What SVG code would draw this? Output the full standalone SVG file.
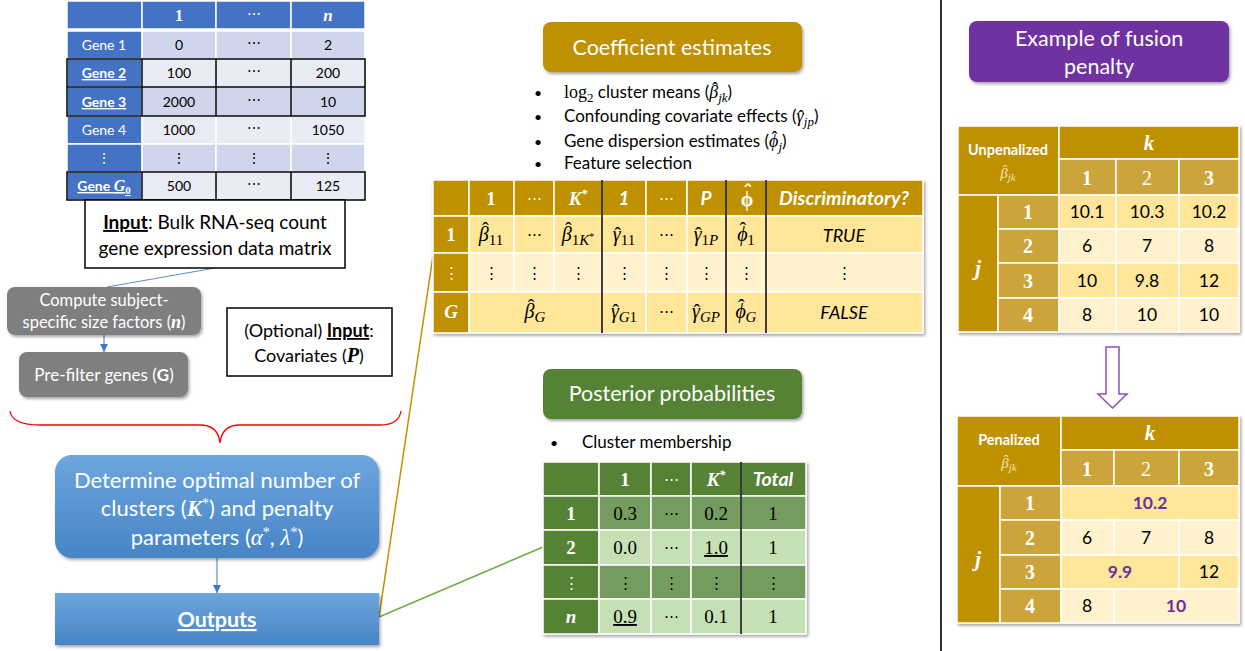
<svg xmlns="http://www.w3.org/2000/svg" width="1245" height="651" viewBox="0 0 1245 651">
<defs>
<style>
.s{font-family:Lato,"Liberation Sans",sans-serif}
.m{font-family:"Liberation Serif","DejaVu Serif",serif}
.w{fill:#fff}
.k{fill:#000}
.c{text-anchor:middle}
.b{font-weight:bold}
.i{font-style:italic}
.n{font-style:normal}
.cell{stroke:#fff;stroke-width:1.5}
.blk{stroke:#000;stroke-width:1.5;fill:none}
.gd{fill:#BF9000}
.gm{fill:#CBA53A}
.g1{fill:#FFE699}
.g2{fill:#FFF2CC}
.bl{fill:#4472C4}
.l1{fill:#CFD5EA}
.l2{fill:#E9EBF5}
.dg{fill:#548235}
.mg{fill:#749C5E}
.lg{fill:#C5E0B4}
</style>
<linearGradient id="bg" x1="0" y1="0" x2="0" y2="1"><stop offset="0" stop-color="#6EA6DE"/><stop offset="1" stop-color="#4784C6"/></linearGradient>
<filter id="sh" x="-10%" y="-10%" width="125%" height="135%"><feDropShadow dx="1.5" dy="2" stdDeviation="1.5" flood-color="#000" flood-opacity="0.35"/></filter>
<marker id="ab" viewBox="0 0 10 10" refX="10" refY="5" markerWidth="8" markerHeight="8" orient="auto" markerUnits="userSpaceOnUse"><path d="M0,0 L10,5 L0,10 z" fill="#4472C4"/></marker>
</defs>
<rect width="1245" height="651" fill="#fff"/>

<g id="connectors">
<line x1="215" y1="268" x2="107" y2="287" stroke="#5B8BD0" stroke-width="1"/>
<line x1="104" y1="335" x2="104" y2="352" stroke="#4472C4" stroke-width="1" marker-end="url(#ab)"/>
<line x1="217" y1="558" x2="217" y2="593" stroke="#4472C4" stroke-width="1" marker-end="url(#ab)"/>
<path d="M10,411 Q12,425 40,425 L200,425 Q218,425 220,443 Q222,425 240,425 L380,425 Q399,425 401,411" fill="none" stroke="#FF0000" stroke-width="1.3"/>
<line x1="379" y1="617" x2="433" y2="256" stroke="#BF9000" stroke-width="1.5"/>
<line x1="379" y1="617" x2="543" y2="547" stroke="#70AD47" stroke-width="1.5"/>
<path d="M1106,347 L1119,347 L1119,394 L1127,394 L1112.5,408 L1098,394 L1106,394 Z" fill="#fff" stroke="#8A4FC4" stroke-width="1.5"/>
<line x1="941" y1="0" x2="941" y2="651" stroke="#333" stroke-width="2"/>
</g>

<g id="count-matrix">
<g class="cell">
<rect class="bl" x="67" y="1" width="75" height="28"/><rect class="bl" x="142" y="1" width="74" height="28"/><rect class="bl" x="216" y="1" width="75" height="28"/><rect class="bl" x="291" y="1" width="74" height="28"/>
<rect class="bl" x="67" y="31" width="75" height="28"/><rect class="l1" x="142" y="31" width="74" height="28"/><rect class="l1" x="216" y="31" width="75" height="28"/><rect class="l1" x="291" y="31" width="74" height="28"/>
<rect class="bl" x="67" y="59" width="75" height="28"/><rect class="l2" x="142" y="59" width="74" height="28"/><rect class="l2" x="216" y="59" width="75" height="28"/><rect class="l2" x="291" y="59" width="74" height="28"/>
<rect class="bl" x="67" y="87" width="75" height="29"/><rect class="l1" x="142" y="87" width="74" height="29"/><rect class="l1" x="216" y="87" width="75" height="29"/><rect class="l1" x="291" y="87" width="74" height="29"/>
<rect class="bl" x="67" y="116" width="75" height="28"/><rect class="l2" x="142" y="116" width="74" height="28"/><rect class="l2" x="216" y="116" width="75" height="28"/><rect class="l2" x="291" y="116" width="74" height="28"/>
<rect class="bl" x="67" y="144" width="75" height="28"/><rect class="l1" x="142" y="144" width="74" height="28"/><rect class="l1" x="216" y="144" width="75" height="28"/><rect class="l1" x="291" y="144" width="74" height="28"/>
<rect class="bl" x="67" y="172" width="75" height="28"/><rect class="l2" x="142" y="172" width="74" height="28"/><rect class="l2" x="216" y="172" width="75" height="28"/><rect class="l2" x="291" y="172" width="74" height="28"/>
</g>
<rect class="blk" x="67" y="59" width="298" height="57"/>
<path class="blk" d="M67,87 H365 M142,59 V116 M216,59 V116 M291,59 V116"/>
<rect class="blk" x="67" y="172" width="298" height="28"/>
<path class="blk" d="M142,172 V200 M216,172 V200 M291,172 V200"/>
<text class="m w b c" x="179" y="21" font-size="16">1</text>
<text class="s w c" x="254" y="19" font-size="14">⋯</text>
<text class="m w b i c" x="328" y="21" font-size="17">n</text>
<g class="s c" font-size="14">
<text class="w" x="104" y="50">Gene 1</text>
<text class="w b" x="104" y="78" text-decoration="underline">Gene 2</text>
<text class="w b" x="104" y="107" text-decoration="underline">Gene 3</text>
<text class="w" x="104" y="135">Gene 4</text>
<text class="w" x="104" y="163">⋮</text>
<text class="w b" x="104" y="191" text-decoration="underline">Gene <tspan class="m i" font-size="16">G</tspan><tspan class="m" font-size="11" dy="3">0</tspan></text>
<text x="179" y="50">0</text><text x="254" y="48">⋯</text><text x="328" y="50">2</text>
<text x="179" y="78">100</text><text x="254" y="76">⋯</text><text x="328" y="78">200</text>
<text x="179" y="107">2000</text><text x="254" y="105">⋯</text><text x="328" y="107">10</text>
<text x="179" y="135">1000</text><text x="254" y="133">⋯</text><text x="328" y="135">1050</text>
<text x="179" y="163">⋮</text><text x="254" y="163">⋮</text><text x="328" y="163">⋮</text>
<text x="179" y="191">500</text><text x="254" y="189">⋯</text><text x="328" y="191">125</text>
</g>
</g>

<g id="input-box">
<rect x="85" y="200" width="260" height="68" fill="#fff" stroke="#000" stroke-width="1.5"/>
<text class="s c" x="215" y="229" font-size="19"><tspan class="b" text-decoration="underline">Input</tspan>: Bulk RNA-seq count</text>
<text class="s c" x="215" y="255" font-size="19">gene expression data matrix</text>
</g>

<g id="size-factors">
<rect x="7" y="287" width="194" height="48" rx="8" fill="#7F7F7F" filter="url(#sh)"/>
<text class="s w c" x="104" y="306" font-size="16.5">Compute subject-</text>
<text class="s w c" x="104" y="328" font-size="16.5">specific size factors (<tspan class="m b i" font-size="18">n</tspan>)</text>
</g>

<g id="prefilter">
<rect x="19" y="352" width="169" height="45" rx="8" fill="#7F7F7F" filter="url(#sh)"/>
<text class="s w c" x="104" y="381" font-size="17">Pre-filter genes (<tspan class="b">G</tspan>)</text>
</g>

<g id="covariates">
<rect x="227" y="308" width="165" height="68" fill="#fff" stroke="#000" stroke-width="1.5"/>
<text class="s c" x="309" y="337" font-size="18">(Optional) <tspan class="b" text-decoration="underline">Input</tspan>:</text>
<text class="s c" x="309" y="362" font-size="18">Covariates (<tspan class="m b i" font-size="20">P</tspan>)</text>
</g>

<g id="determine">
<rect x="55" y="455" width="324" height="103" rx="17" fill="url(#bg)" filter="url(#sh)"/>
<text class="s w c" x="217" y="488" font-size="22">Determine optimal number of</text>
<text class="s w c" x="217" y="516" font-size="22">clusters (<tspan class="m b i" font-size="23">K</tspan><tspan class="m" font-size="14" dy="-8">*</tspan><tspan dy="8">) and penalty</tspan></text>
<text class="s w c" x="217" y="545" font-size="22">parameters (<tspan class="m i" font-size="23">α</tspan><tspan class="m" font-size="14" dy="-8">*</tspan><tspan dy="8">, </tspan><tspan class="m i" font-size="23">λ</tspan><tspan class="m" font-size="14" dy="-8">*</tspan><tspan dy="8">)</tspan></text>
</g>

<g id="outputs">
<rect x="55" y="593" width="324" height="52" fill="url(#bg)" filter="url(#sh)"/>
<text class="s w b c" x="217" y="627" font-size="21.5" text-decoration="underline">Outputs</text>
</g>

<g id="coef-title">
<rect x="543" y="22" width="259" height="50" rx="8" fill="#BF9000" filter="url(#sh)"/>
<text class="s w c" x="672" y="55" font-size="21.5">Coefficient estimates</text>
</g>

<g id="coef-bullets" class="s" font-size="17">
<text x="534" y="98" font-size="14">•</text><text x="564" y="98"><tspan class="m" font-size="18">log</tspan><tspan class="m" font-size="13" dy="4">2</tspan><tspan dy="-4"> cluster means (</tspan><tspan class="m i" font-size="18">β</tspan><tspan class="m" font-size="18" dx="-6.2" dy="-3">ˆ</tspan><tspan class="m i" font-size="13" dx="0.2" dy="7">jk</tspan><tspan dy="-4">)</tspan></text>
<text x="534" y="122" font-size="14">•</text><text x="564" y="122">Confounding covariate effects (<tspan class="m i" font-size="18">γ</tspan><tspan class="m" font-size="18" dx="-5.6" dy="1">ˆ</tspan><tspan class="m i" font-size="13" dx="-0.2" dy="3">jp</tspan><tspan dy="-4">)</tspan></text>
<text x="534" y="147" font-size="14">•</text><text x="564" y="147">Gene dispersion estimates (<tspan class="m i" font-size="18">ϕ</tspan><tspan class="m" font-size="18" dx="-7" dy="-3">ˆ</tspan><tspan class="m i" font-size="13" dx="1" dy="7">j</tspan><tspan dy="-4">)</tspan></text>
<text x="534" y="169" font-size="14">•</text><text x="564" y="169">Feature selection</text>
</g>

<g id="coef-table">
<g filter="url(#sh)" class="cell">
<rect class="gd" x="433" y="180" width="36" height="36"/><rect class="gd" x="469" y="180" width="45" height="36"/><rect class="gd" x="514" y="180" width="40" height="36"/><rect class="gd" x="554" y="180" width="48" height="36"/><rect class="gd" x="602" y="180" width="44" height="36"/><rect class="gd" x="646" y="180" width="41" height="36"/><rect class="gd" x="687" y="180" width="39" height="36"/><rect class="gd" x="726" y="180" width="40" height="36"/><rect class="gd" x="766" y="180" width="157" height="36"/>
<rect class="gd" x="433" y="216" width="36" height="37"/><rect class="g1" x="469" y="216" width="45" height="37"/><rect class="g1" x="514" y="216" width="40" height="37"/><rect class="g1" x="554" y="216" width="48" height="37"/><rect class="g1" x="602" y="216" width="44" height="37"/><rect class="g1" x="646" y="216" width="41" height="37"/><rect class="g1" x="687" y="216" width="39" height="37"/><rect class="g1" x="726" y="216" width="40" height="37"/><rect class="g1" x="766" y="216" width="157" height="37"/>
<rect class="gd" x="433" y="253" width="36" height="39"/><rect class="g2" x="469" y="253" width="45" height="39"/><rect class="g2" x="514" y="253" width="40" height="39"/><rect class="g2" x="554" y="253" width="48" height="39"/><rect class="g2" x="602" y="253" width="44" height="39"/><rect class="g2" x="646" y="253" width="41" height="39"/><rect class="g2" x="687" y="253" width="39" height="39"/><rect class="g2" x="726" y="253" width="40" height="39"/><rect class="g2" x="766" y="253" width="157" height="39"/>
<rect class="gd" x="433" y="292" width="36" height="41"/><rect class="g1" x="469" y="292" width="133" height="41"/><rect class="g1" x="602" y="292" width="44" height="41"/><rect class="g1" x="646" y="292" width="41" height="41"/><rect class="g1" x="687" y="292" width="39" height="41"/><rect class="g1" x="726" y="292" width="40" height="41"/><rect class="g1" x="766" y="292" width="157" height="41"/>
</g>
<path d="M602,180 V333 M726,180 V333 M766,180 V333" stroke="#000" stroke-width="1.5"/>
<g class="c">
<text class="m w b" x="491" y="205" font-size="19">1</text>
<text class="s w" x="534" y="203" font-size="15">⋯</text>
<text class="m w b i" x="578" y="205" font-size="19">K<tspan font-size="12" dy="-7">*</tspan></text>
<text class="s w b i" x="624" y="205" font-size="19">1</text>
<text class="s w" x="666" y="203" font-size="15">⋯</text>
<text class="s w b i" x="706" y="205" font-size="19">P</text>
<text class="m w b" x="747" y="206" font-size="20">ϕ<tspan dx="-9" dy="-7" font-size="22">ˆ</tspan></text>
<text class="s w b i" x="844" y="205" font-size="19.5">Discriminatory?</text>
<text class="m w b" x="451" y="241" font-size="19">1</text>
<text class="s w" x="451" y="278" font-size="15">⋮</text>
<text class="m w b i" x="451" y="318" font-size="19">G</text>
<g class="m k" font-size="20">
<text x="491" y="241"><tspan class="i">β</tspan><tspan dx="-6.8" dy="-4">ˆ</tspan><tspan font-size="15" dx="0.2" dy="8">11</tspan></text>
<text class="s" x="534" y="239" font-size="15">⋯</text>
<text x="578" y="241"><tspan class="i">β</tspan><tspan dx="-6.8" dy="-4">ˆ</tspan><tspan font-size="15" dx="0.2" dy="8">1</tspan><tspan class="i" font-size="15">K</tspan><tspan font-size="10" dy="-5">*</tspan></text>
<text x="624" y="241"><tspan class="i">γ</tspan><tspan dx="-6.5" dy="1">ˆ</tspan><tspan font-size="15" dx="-0.2" dy="3">11</tspan></text>
<text class="s" x="666" y="239" font-size="15">⋯</text>
<text x="706" y="241"><tspan class="i">γ</tspan><tspan dx="-6.5" dy="1">ˆ</tspan><tspan font-size="15" dx="-0.2" dy="3">1</tspan><tspan class="i" font-size="15">P</tspan></text>
<text x="746" y="241"><tspan class="i">ϕ</tspan><tspan dx="-8" dy="-4">ˆ</tspan><tspan font-size="15" dx="1" dy="8">1</tspan></text>
<text class="s i" x="844" y="242" font-size="18">TRUE</text>
<text class="s" x="491" y="278" font-size="15">⋮</text><text class="s" x="534" y="278" font-size="15">⋮</text><text class="s" x="578" y="278" font-size="15">⋮</text><text class="s" x="624" y="278" font-size="15">⋮</text><text class="s" x="666" y="278" font-size="15">⋮</text><text class="s" x="706" y="278" font-size="15">⋮</text><text class="s" x="746" y="278" font-size="15">⋮</text><text class="s" x="844" y="278" font-size="15">⋮</text>
<text x="535" y="318"><tspan class="i">β</tspan><tspan dx="-6.8" dy="-4">ˆ</tspan><tspan class="i" font-size="15" dx="0.2" dy="8">G</tspan></text>
<text x="624" y="318"><tspan class="i">γ</tspan><tspan dx="-6.5" dy="1">ˆ</tspan><tspan font-size="15" dx="-0.2" dy="3"><tspan class="i">G</tspan>1</tspan></text>
<text class="s" x="666" y="316" font-size="15">⋯</text>
<text x="706" y="318"><tspan class="i">γ</tspan><tspan dx="-6.5" dy="1">ˆ</tspan><tspan class="i" font-size="15" dx="-0.2" dy="3">GP</tspan></text>
<text x="746" y="318"><tspan class="i">ϕ</tspan><tspan dx="-8" dy="-4">ˆ</tspan><tspan class="i" font-size="15" dx="1" dy="8">G</tspan></text>
<text class="s i" x="844" y="319" font-size="18">FALSE</text>
</g>
</g>
</g>

<g id="post-title">
<rect x="543" y="369" width="259" height="50" rx="8" fill="#548235" filter="url(#sh)"/>
<text class="s w c" x="672" y="401" font-size="21.5">Posterior probabilities</text>
</g>

<g id="post-bullets" class="s" font-size="17">
<text x="550" y="448" font-size="14">•</text><text x="582" y="448">Cluster membership</text>
</g>

<g id="post-table">
<g filter="url(#sh)" class="cell">
<rect class="dg" x="543" y="462" width="56" height="34"/><rect class="dg" x="599" y="462" width="52" height="34"/><rect class="dg" x="651" y="462" width="40" height="34"/><rect class="dg" x="691" y="462" width="50" height="34"/><rect class="dg" x="741" y="462" width="65" height="34"/>
<rect class="dg" x="543" y="496" width="56" height="34"/><rect class="mg" x="599" y="496" width="52" height="34"/><rect class="mg" x="651" y="496" width="40" height="34"/><rect class="mg" x="691" y="496" width="50" height="34"/><rect class="mg" x="741" y="496" width="65" height="34"/>
<rect class="dg" x="543" y="530" width="56" height="35"/><rect class="lg" x="599" y="530" width="52" height="35"/><rect class="lg" x="651" y="530" width="40" height="35"/><rect class="lg" x="691" y="530" width="50" height="35"/><rect class="lg" x="741" y="530" width="65" height="35"/>
<rect class="dg" x="543" y="565" width="56" height="34"/><rect class="mg" x="599" y="565" width="52" height="34"/><rect class="mg" x="651" y="565" width="40" height="34"/><rect class="mg" x="691" y="565" width="50" height="34"/><rect class="mg" x="741" y="565" width="65" height="34"/>
<rect class="dg" x="543" y="599" width="56" height="35"/><rect class="lg" x="599" y="599" width="52" height="35"/><rect class="lg" x="651" y="599" width="40" height="35"/><rect class="lg" x="691" y="599" width="50" height="35"/><rect class="lg" x="741" y="599" width="65" height="35"/>
</g>
<line x1="741" y1="462" x2="741" y2="634" stroke="#000" stroke-width="1.5"/>
<g class="c">
<text class="m w b" x="625" y="486" font-size="19">1</text>
<text class="s w" x="671" y="484" font-size="15">⋯</text>
<text class="m w b i" x="716" y="486" font-size="19">K<tspan font-size="12" dy="-7">*</tspan></text>
<text class="s w b i" x="773" y="486" font-size="19.5">Total</text>
<text class="m w b" x="571" y="520" font-size="19">1</text>
<text class="m w b" x="571" y="554" font-size="19">2</text>
<text class="s w" x="571" y="588" font-size="15">⋮</text>
<text class="m w b i" x="571" y="623" font-size="19">n</text>
<g class="m k" font-size="19">
<text x="625" y="520">0.3</text><text class="s" x="671" y="518" font-size="15">⋯</text><text x="716" y="520">0.2</text><text x="773" y="520">1</text>
<text x="625" y="554">0.0</text><text class="s" x="671" y="552" font-size="15">⋯</text><text x="716" y="554" text-decoration="underline">1.0</text><text x="773" y="554">1</text>
<text class="s" x="625" y="588" font-size="15">⋮</text><text class="s" x="671" y="588" font-size="15">⋮</text><text class="s" x="716" y="588" font-size="15">⋮</text><text class="s" x="773" y="588" font-size="15">⋮</text>
<text x="625" y="623" text-decoration="underline">0.9</text><text class="s" x="671" y="621" font-size="15">⋯</text><text x="716" y="623">0.1</text><text x="773" y="623">1</text>
</g>
</g>
</g>

<g id="fusion-title">
<rect x="969" y="21" width="260" height="61" rx="8" fill="#7030A0" filter="url(#sh)"/>
<text class="s w c" x="1099" y="46" font-size="21.5">Example of fusion</text>
<text class="s w c" x="1099" y="74" font-size="21.5">penalty</text>
</g>

<g id="unpenalized">
<g filter="url(#sh)" class="cell">
<rect class="gd" x="958" y="126" width="101" height="69"/>
<rect class="gd" x="1059" y="126" width="180" height="33"/>
<rect class="gm" x="1059" y="159" width="57" height="36"/><rect class="gm" x="1116" y="159" width="63" height="36"/><rect class="gm" x="1179" y="159" width="60" height="36"/>
<rect class="gd" x="958" y="195" width="40" height="137"/>
<rect class="gm" x="998" y="195" width="61" height="34"/><rect class="gm" x="998" y="229" width="61" height="34"/><rect class="gm" x="998" y="263" width="61" height="35"/><rect class="gm" x="998" y="298" width="61" height="34"/>
<rect class="g1" x="1059" y="195" width="57" height="34"/><rect class="g1" x="1116" y="195" width="63" height="34"/><rect class="g1" x="1179" y="195" width="60" height="34"/>
<rect class="g2" x="1059" y="229" width="57" height="34"/><rect class="g2" x="1116" y="229" width="63" height="34"/><rect class="g2" x="1179" y="229" width="60" height="34"/>
<rect class="g1" x="1059" y="263" width="57" height="35"/><rect class="g1" x="1116" y="263" width="63" height="35"/><rect class="g1" x="1179" y="263" width="60" height="35"/>
<rect class="g2" x="1059" y="298" width="57" height="34"/><rect class="g2" x="1116" y="298" width="63" height="34"/><rect class="g2" x="1179" y="298" width="60" height="34"/>
</g>
<g class="c">
<text class="s w b" x="1008" y="155" font-size="14.5">Unpenalized</text>
<text class="m" x="1008" y="178" font-size="15" fill="#F4E4B4"><tspan class="i">β</tspan><tspan dx="-5.2" dy="-3">ˆ</tspan><tspan class="i" font-size="11" dx="0.2" dy="6">jk</tspan></text>
<text class="m w b i" x="1149" y="150" font-size="21">k</text>
<text class="m w b" x="1087" y="185" font-size="20">1</text><text class="m w" x="1147" y="185" font-size="20">2</text><text class="m w b" x="1209" y="185" font-size="20">3</text>
<text class="m w b i" x="978" y="275" font-size="22">j</text>
<text class="m w b" x="1028" y="219" font-size="20">1</text><text class="m w b" x="1028" y="253" font-size="20">2</text><text class="m w b" x="1028" y="288" font-size="20">3</text><text class="m w b" x="1028" y="322" font-size="20">4</text>
<g class="s k" font-size="17.5">
<text x="1087" y="218">10.1</text><text x="1147" y="218">10.3</text><text x="1209" y="218">10.2</text>
<text x="1087" y="252">6</text><text x="1147" y="252">7</text><text x="1209" y="252">8</text>
<text x="1087" y="287">10</text><text x="1147" y="287">9.8</text><text x="1209" y="287">12</text>
<text x="1087" y="321">8</text><text x="1147" y="321">10</text><text x="1209" y="321">10</text>
</g>
</g>
</g>

<g id="penalized">
<g filter="url(#sh)" class="cell">
<rect class="gd" x="957" y="416" width="104" height="70"/>
<rect class="gd" x="1061" y="416" width="178" height="34"/>
<rect class="gm" x="1061" y="450" width="53" height="36"/><rect class="gm" x="1114" y="450" width="65" height="36"/><rect class="gm" x="1179" y="450" width="60" height="36"/>
<rect class="gd" x="957" y="486" width="43" height="137"/>
<rect class="gm" x="1000" y="486" width="61" height="34"/><rect class="gm" x="1000" y="520" width="61" height="35"/><rect class="gm" x="1000" y="555" width="61" height="34"/><rect class="gm" x="1000" y="589" width="61" height="34"/>
<rect class="g1" x="1061" y="486" width="178" height="34"/>
<rect class="g2" x="1061" y="520" width="53" height="35"/><rect class="g2" x="1114" y="520" width="65" height="35"/><rect class="g2" x="1179" y="520" width="60" height="35"/>
<rect class="g1" x="1061" y="555" width="118" height="34"/><rect class="g1" x="1179" y="555" width="60" height="34"/>
<rect class="g2" x="1061" y="589" width="53" height="34"/><rect class="g2" x="1114" y="589" width="125" height="34"/>
</g>
<g class="c">
<text class="s w b" x="1009" y="445" font-size="14.5">Penalized</text>
<text class="m" x="1009" y="468" font-size="15" fill="#F4E4B4"><tspan class="i">β</tspan><tspan dx="-5.2" dy="-3">ˆ</tspan><tspan class="i" font-size="11" dx="0.2" dy="6">jk</tspan></text>
<text class="m w b i" x="1150" y="440" font-size="21">k</text>
<text class="m w b" x="1087" y="476" font-size="20">1</text><text class="m w" x="1146" y="476" font-size="20">2</text><text class="m w b" x="1209" y="476" font-size="20">3</text>
<text class="m w b i" x="978" y="566" font-size="22">j</text>
<text class="m w b" x="1030" y="510" font-size="20">1</text><text class="m w b" x="1030" y="545" font-size="20">2</text><text class="m w b" x="1030" y="579" font-size="20">3</text><text class="m w b" x="1030" y="613" font-size="20">4</text>
<g class="s" font-size="17.5">
<text class="b" x="1150" y="509" fill="#7030A0">10.2</text>
<text class="k" x="1087" y="544">6</text><text class="k" x="1146" y="544">7</text><text class="k" x="1209" y="544">8</text>
<text class="b" x="1120" y="578" fill="#7030A0">9.9</text><text class="k" x="1209" y="578">12</text>
<text class="k" x="1087" y="612">8</text><text class="b" x="1176" y="612" fill="#7030A0">10</text>
</g>
</g>
</g>
</svg>
